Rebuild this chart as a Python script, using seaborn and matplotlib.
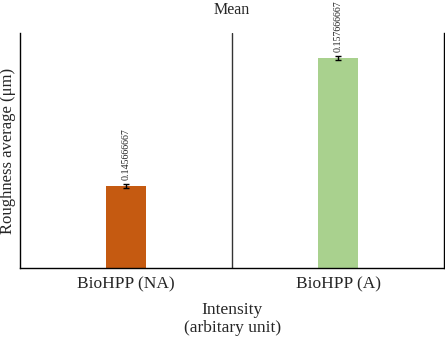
import matplotlib
matplotlib.use("Agg")
import matplotlib.pyplot as plt
import seaborn as sns
import pandas as pd

groups = ["BioHPP (NA)", "BioHPP (A)"]
means = [0.145666667, 0.157666667]
errs = [0.0002, 0.0002]
bar_colors = ["#C55A11", "#A9D18E"]

df = pd.DataFrame({"group": groups, "mean": means})

sns.set_style("white")
plt.rcParams["font.family"] = ["Liberation Serif", "DejaVu Serif"]

fig = plt.figure(figsize=(4.45, 3.37), dpi=100)
ax = fig.add_axes([0.045, 0.205, 0.953, 0.697])

sns.barplot(data=df, x="group", y="mean", hue="group", palette=bar_colors,
            width=0.19, errorbar=None, legend=False, ax=ax,
            saturation=1, linewidth=0)

ax.errorbar(range(len(groups)), means, yerr=errs, fmt="none",
            ecolor="black", elinewidth=1, capsize=2.5, capthick=1)

for i, (m, e) in enumerate(zip(means, errs)):
    ax.text(i, m + e + 0.0004, f"{m:.9f}".rstrip("0"), rotation=90,
            ha="center", va="bottom", fontsize=7.2)

ax.axvline(0.5, color="#333333", lw=1)
ax.set_xlim(-0.5, 1.5)
ax.set_ylim(0.138, 0.16)
ax.set_yticks([])
ax.tick_params(axis="x", length=0, labelsize=12.5, pad=6)

for s in ["left", "right", "bottom"]:
    ax.spines[s].set_visible(True)
    ax.spines[s].set_color("black")
    ax.spines[s].set_linewidth(1)
ax.spines["top"].set_visible(False)

ax.set_title("Mean", fontsize=11.5, pad=14)
ax.set_ylabel("Roughness average (μm)", fontsize=12, labelpad=3)
ax.set_xlabel("Intensity\n(arbitary unit)", fontsize=12.5, labelpad=7,
              linespacing=1.15)

fig.savefig("out.png", dpi=100)
